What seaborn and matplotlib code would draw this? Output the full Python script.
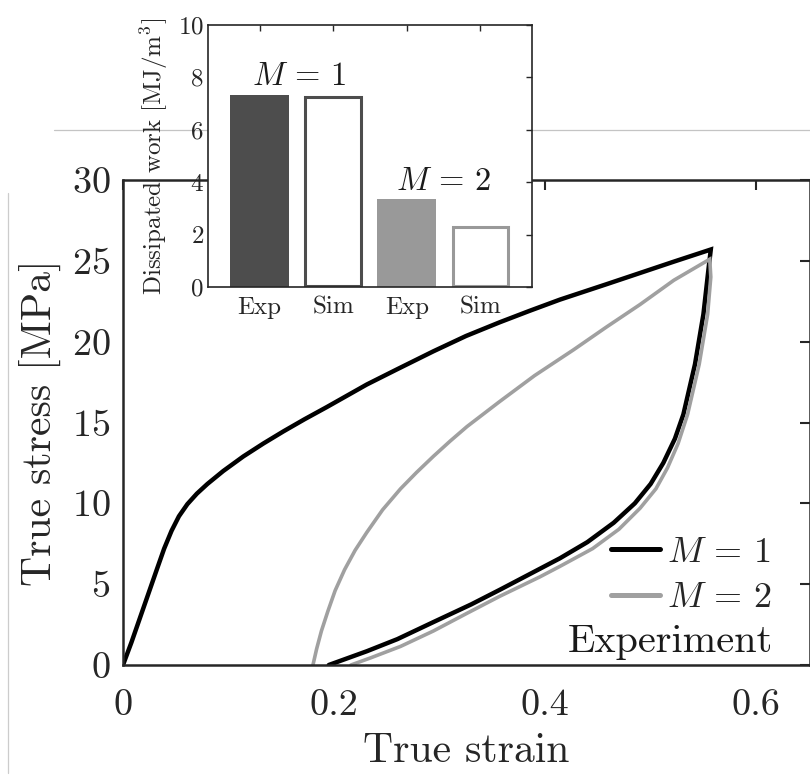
import numpy as np
import pandas as pd
import matplotlib
matplotlib.use("Agg")
import matplotlib.pyplot as plt
from matplotlib.lines import Line2D
import seaborn as sns

# Stress-strain loops (true strain, true stress in MPa): loading then unloading
m1_strain = [0.0, 0.008, 0.016, 0.024, 0.032, 0.039, 0.046, 0.053, 0.061, 0.070,
             0.080, 0.095, 0.114, 0.133, 0.152, 0.172, 0.193, 0.231, 0.260, 0.294,
             0.325, 0.357, 0.385, 0.414, 0.458, 0.490, 0.522, 0.557,
             0.555, 0.550, 0.542, 0.531, 0.523, 0.512, 0.500, 0.485, 0.465, 0.440,
             0.414, 0.395, 0.357, 0.330, 0.294, 0.260, 0.231, 0.195]
m1_stress = [0.0, 1.4, 2.9, 4.4, 5.9, 7.2, 8.3, 9.2, 9.95, 10.6,
             11.2, 12.0, 12.9, 13.7, 14.45, 15.2, 15.95, 17.35, 18.3, 19.4,
             20.35, 21.2, 21.9, 22.6, 23.55, 24.25, 24.95, 25.7,
             24.6, 21.7, 18.6, 15.5, 14.0, 12.5, 11.2, 10.0, 8.8, 7.6,
             6.6, 5.95, 4.65, 3.75, 2.65, 1.6, 0.85, 0.0]

m2_strain = [0.180, 0.1835, 0.188, 0.194, 0.201, 0.210, 0.220, 0.231, 0.246, 0.263,
             0.278, 0.294, 0.310, 0.326, 0.357, 0.390, 0.427, 0.458, 0.490, 0.522,
             0.556,
             0.557, 0.554, 0.546, 0.535, 0.526, 0.516, 0.505, 0.490, 0.470, 0.445,
             0.414, 0.395, 0.357, 0.326, 0.294, 0.263, 0.235, 0.216]
m2_stress = [0.0, 1.0, 2.1, 3.3, 4.6, 5.9, 7.1, 8.2, 9.6, 10.9,
             11.9, 12.9, 13.85, 14.75, 16.3, 17.9, 19.5, 20.9, 22.3, 23.8,
             25.1,
             24.0, 21.7, 18.6, 15.5, 13.7, 12.2, 10.9, 9.7, 8.4, 7.2,
             6.1, 5.45, 4.25, 3.2, 2.1, 1.15, 0.45, 0.0]

# Dissipated work bars [MJ/m^3]
bar_labels = ["Exp", "Sim", "Exp", "Sim"]
bar_values = [7.32, 7.25, 3.36, 2.28]
group_labels = [r"$M\,=\,1$", r"$M\,=\,2$"]

x_ticks = [0, 0.2, 0.4, 0.6]
x_ticklabels = ["0", "0.2", "0.4", "0.6"]
y_ticks = [0, 5, 10, 15, 20, 25, 30]
inset_yticks = [0, 2, 4, 6, 8, 10]

sns.set_theme(style="white")
plt.rcParams["font.family"] = ["cmr10", "DejaVu Serif"]
plt.rcParams["mathtext.fontset"] = "cm"
plt.rcParams["axes.formatter.use_mathtext"] = True
plt.rcParams["axes.unicode_minus"] = False

fig = plt.figure(figsize=(8.1, 7.75), dpi=100)

# thin frame lines around the panel
fig.add_artist(Line2D([54 / 810, 1.0], [1 - 130 / 775] * 2, color="#c4c4c4",
                      lw=0.9, transform=fig.transFigure, zorder=0))
fig.add_artist(Line2D([8 / 810] * 2, [1 - 193 / 775, 1 - 773 / 775], color="#cccccc",
                      lw=0.9, transform=fig.transFigure, zorder=0))

ax = fig.add_axes([123 / 810, 1 - 665 / 775, 687 / 810, 485 / 775])

curves = pd.concat([
    pd.DataFrame({"strain": m1_strain, "stress": m1_stress, "M": group_labels[0]}),
    pd.DataFrame({"strain": m2_strain, "stress": m2_stress, "M": group_labels[1]}),
], ignore_index=True)

sns.lineplot(data=curves, x="strain", y="stress", hue="M", sort=False,
             estimator=None, palette={group_labels[0]: "black", group_labels[1]: "#a0a0a0"},
             linewidth=3.0, ax=ax)
ax.lines[0].set_linewidth(3.2)
ax.lines[1].set_linewidth(2.6)
for ln in ax.lines[:2]:
    ln.set_solid_joinstyle("miter")

ax.set_xlim(0, 0.651)
ax.set_ylim(0, 30)
ax.set_xticks(x_ticks)
ax.set_xticklabels(x_ticklabels)
ax.set_yticks(y_ticks)
ax.set_xlabel("True strain", fontsize=30, labelpad=8)
ax.set_ylabel("True stress [MPa]", fontsize=30, labelpad=8)
ax.tick_params(axis="both", which="major", direction="in", length=7, width=1.5,
               top=True, right=True, labelsize=27.5, colors="#262626")
ax.tick_params(axis="x", pad=17)
ax.tick_params(axis="y", pad=9)
for s in ax.spines.values():
    s.set_linewidth(1.8)
    s.set_color("#262626")

leg = ax.legend(loc="lower right", bbox_to_anchor=(0.965, 0.075), frameon=False,
                fontsize=26, handlelength=1.35, handletextpad=0.2,
                labelspacing=0.36, borderaxespad=0.0)
for h in leg.get_lines():
    h.set_linewidth(3.6)
ax.text(0.616, 0.8, "Experiment", fontsize=29, ha="right", va="baseline",
        color="#1a1a1a")

# Inset: dissipated work per cycle
axi = fig.add_axes([208 / 810, 1 - 287 / 775, 324 / 810, 262 / 775])
bars = pd.DataFrame({"pos": range(4), "label": bar_labels, "value": bar_values})
sns.barplot(data=bars, x="pos", y="value", width=0.8, ax=axi,
            color="white", saturation=1)
faces = ["#4d4d4d", "white", "#999999", "white"]
edges = ["#4d4d4d", "#4d4d4d", "#999999", "#999999"]
lws = [0, 2.2, 0, 2.2]
for p, fc, ec, lw in zip(axi.patches, faces, edges, lws):
    p.set_facecolor(fc)
    p.set_edgecolor(ec)
    p.set_linewidth(lw)
    if lw > 0:
        # keep the outline inside the bar extent
        x0, w = p.get_x(), p.get_width()
        h = p.get_height()
        dx = 0.022
        p.set_x(x0 + dx)
        p.set_width(w - 2 * dx)
        p.set_height(h - 0.05)
        p.set_y(0.05)

axi.set_xlim(-0.7, 3.7)
axi.set_ylim(0, 10)
axi.set_yticks(inset_yticks)
axi.set_xticks(range(4))
axi.set_xticklabels(bar_labels)
axi.set_xlabel("")
axi.set_ylabel("Dissipated work [MJ/m$^3$]", fontsize=18, labelpad=6)
axi.tick_params(axis="both", direction="in", length=4, width=1.0, top=True,
                right=True, labelsize=18, colors="#262626")
axi.tick_params(axis="x", pad=7)
axi.tick_params(axis="y", pad=3)
for s in axi.spines.values():
    s.set_linewidth(1.2)
    s.set_color("#262626")
axi.set_facecolor("white")

axi.text(0.53, 7.7, group_labels[0], fontsize=23.5, ha="center", va="baseline",
         color="#1a1a1a")
axi.text(2.5, 3.7, group_labels[1], fontsize=23.5, ha="center", va="baseline",
         color="#1a1a1a")

fig.savefig("out.png", dpi=100)
